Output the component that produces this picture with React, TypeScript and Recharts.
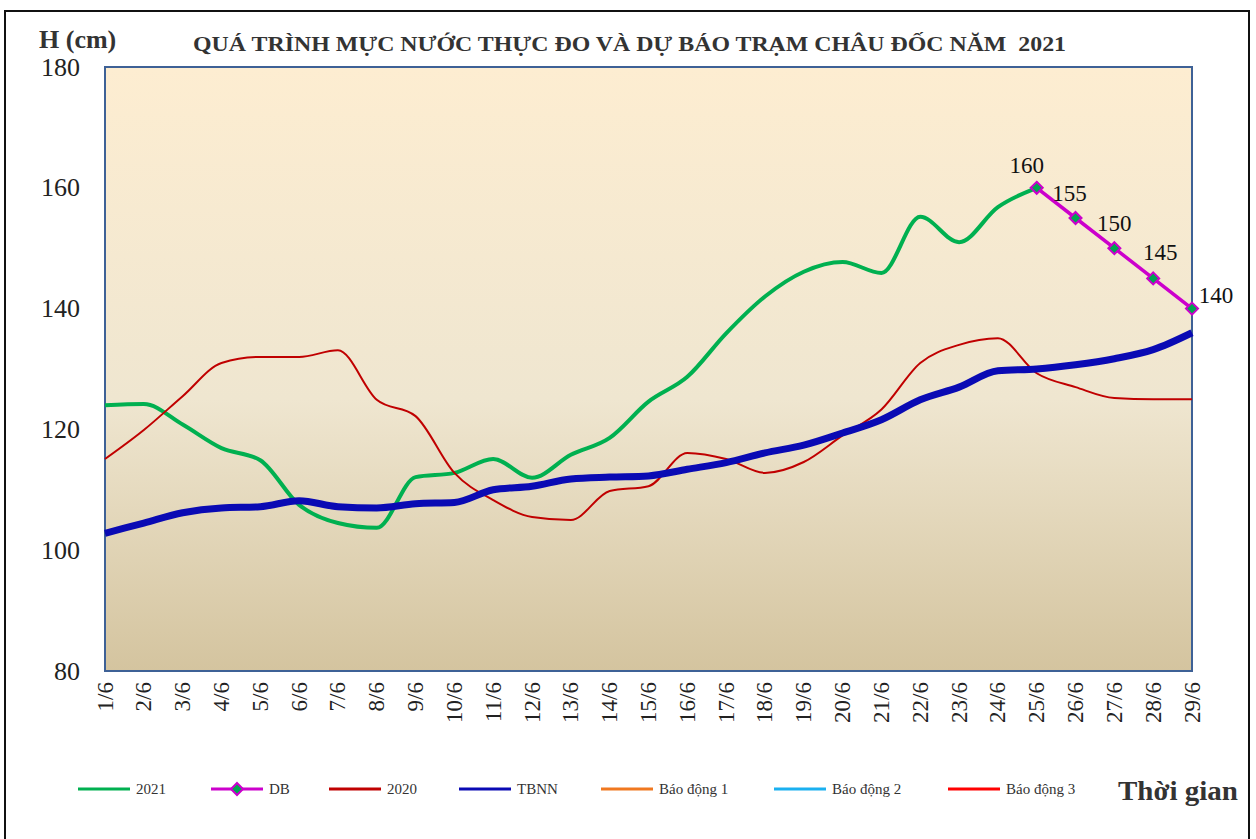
import React from 'react';
import { LineChart, Line, XAxis, YAxis, ReferenceArea, LabelList } from 'recharts';

// ngày quan trắc
const days = [
  '1/6', '2/6', '3/6', '4/6', '5/6', '6/6', '7/6', '8/6', '9/6', '10/6',
  '11/6', '12/6', '13/6', '14/6', '15/6', '16/6', '17/6', '18/6', '19/6', '20/6',
  '21/6', '22/6', '23/6', '24/6', '25/6', '26/6', '27/6', '28/6', '29/6',
];

// mực nước thực đo 2021 (đến 25/6)
const h2021 = [
  124.0, 124.2, 120.8, 116.9, 114.9, 107.5, 104.5, 103.7, 112.1, 112.8,
  115.1, 112.0, 115.8, 118.6, 124.6, 128.7, 135.9, 142.0, 146.1, 147.7,
  145.9, 155.2, 151.0, 156.8, 160.0,
];

// dự báo từ 25/6
const dbStart = 24;
const hDB = [160, 155, 150, 145, 140];

const h2020 = [
  115.1, 119.9, 125.5, 131.0, 132.0, 132.0, 133.1, 124.9, 122.2, 112.8,
  108.3, 105.5, 105.0, 109.8, 110.6, 116.1, 115.1, 112.8, 114.6, 119.0,
  123.3, 131.0, 134.0, 135.1, 129.3, 127.0, 125.2, 125.0, 125.0,
];

const hTBNN = [
  102.8, 104.5, 106.2, 107.0, 107.2, 108.2, 107.2, 107.0, 107.7, 107.9,
  110.0, 110.6, 111.8, 112.1, 112.3, 113.4, 114.5, 116.1, 117.4, 119.4,
  121.6, 124.9, 127.0, 129.7, 130.0, 130.7, 131.7, 133.2, 136.0,
];

const yTicks = [80, 100, 120, 140, 160, 180];

const legendItems = [
  { name: '2021', color: '#00B050', left: 78, marker: false },
  { name: 'DB', color: '#CC00CC', left: 211, marker: true },
  { name: '2020', color: '#C00000', left: 329, marker: false },
  { name: 'TBNN', color: '#0A0AB4', left: 459, marker: false },
  { name: 'Báo động 1', color: '#F07820', left: 601, marker: false },
  { name: 'Báo động 2', color: '#1AB0F0', left: 774, marker: false },
  { name: 'Báo động 3', color: '#FF0000', left: 948, marker: false },
];

const rows = days.map((day, i) => ({
  day,
  y2021: i < h2021.length ? h2021[i] : null,
  db: i >= dbStart ? hDB[i - dbStart] : null,
  y2020: h2020[i],
  tbnn: hTBNN[i],
}));

const serif = '"Liberation Serif", "Times New Roman", serif';

const XTick = (props: any) => {
  const { x, y, payload } = props;
  const ty = y + 3;
  return (
    <text
      x={x}
      y={ty}
      transform={`rotate(-90 ${x} ${ty})`}
      textAnchor="end"
      dominantBaseline="central"
      style={{ fontFamily: serif, fontSize: 23 }}
      fill="#222"
    >
      {payload.value}
    </text>
  );
};

const YTick = (props: any) => {
  const { x, y, payload } = props;
  return (
    <text
      x={x - 17}
      y={y}
      textAnchor="end"
      dominantBaseline="central"
      style={{ fontFamily: serif, fontSize: 26 }}
      fill="#222"
    >
      {payload.value}
    </text>
  );
};

const Diamond = (props: any) => {
  const { cx, cy, value } = props;
  if (value == null) return null;
  const r = 6;
  return (
    <path
      d={`M${cx},${cy - r}L${cx + r},${cy}L${cx},${cy + r}L${cx - r},${cy}Z`}
      fill="#00A651"
      stroke="#CC00CC"
      strokeWidth={2}
    />
  );
};

// vị trí nhãn số liệu dự báo
const labelShift = [
  [-10, -22],
  [-6, -25],
  [0, -25],
  [7, -26],
  [24, -13],
];

const DBLabel = (props: any) => {
  const { x, y, value, index } = props;
  if (value == null) return null;
  const k = index - dbStart;
  const [dx, dy] = labelShift[k] || [0, -22];
  return (
    <text
      x={x + dx}
      y={y + dy}
      textAnchor="middle"
      dominantBaseline="central"
      style={{ fontFamily: serif, fontSize: 23 }}
      fill="#111"
    >
      {value}
    </text>
  );
};

export default function App() {
  return (
    <div
      style={{
        position: 'absolute',
        left: 0,
        top: 0,
        width: 1256,
        height: 839,
        background: '#fff',
        fontFamily: serif,
      }}
    >
      <div
        style={{
          position: 'absolute',
          left: 4,
          top: 10,
          width: 1242,
          height: 830,
          border: '2px solid #111',
        }}
      />
      <LineChart
        width={1256}
        height={839}
        data={rows}
        margin={{ top: 67, right: 64, bottom: 118, left: 45 }}
        style={{ position: 'absolute', left: 0, top: 0, fontFamily: serif }}
      >
        <defs>
          <linearGradient id="plotBg" x1="0" y1="0" x2="0" y2="1">
            <stop offset="0%" stopColor="#FDEDD1" />
            <stop offset="55%" stopColor="#EFE6D0" />
            <stop offset="100%" stopColor="#D4C49F" />
          </linearGradient>
        </defs>
        <ReferenceArea
          x1="1/6"
          x2="29/6"
          y1={80}
          y2={180}
          fill="url(#plotBg)"
          fillOpacity={1}
          stroke="#3E6196"
          strokeWidth={2}
        />
        <XAxis
          dataKey="day"
          height={50}
          interval={0}
          axisLine={false}
          tickLine={false}
          tick={(p: any) => <XTick {...p} />}
        />
        <YAxis
          width={60}
          domain={[80, 180]}
          ticks={yTicks}
          axisLine={false}
          tickLine={false}
          tick={(p: any) => <YTick {...p} />}
        />
        <Line
          type="monotone"
          dataKey="y2021"
          stroke="#00B050"
          strokeWidth={4}
          dot={false}
          isAnimationActive={false}
        />
        <Line
          type="linear"
          dataKey="db"
          stroke="#CC00CC"
          strokeWidth={3.5}
          dot={<Diamond />}
          isAnimationActive={false}
        >
          <LabelList dataKey="db" content={(p: any) => <DBLabel {...p} />} />
        </Line>
        <Line
          type="monotone"
          dataKey="y2020"
          stroke="#C00000"
          strokeWidth={2}
          dot={false}
          isAnimationActive={false}
        />
        <Line
          type="monotone"
          dataKey="tbnn"
          stroke="#0A0AB4"
          strokeWidth={7}
          dot={false}
          isAnimationActive={false}
        />
      </LineChart>

      <svg
        width={1256}
        height={839}
        style={{ position: 'absolute', left: 0, top: 0, pointerEvents: 'none' }}
      >
        <text x={39} y={48} style={{ fontFamily: serif, fontSize: 26, fontWeight: 'bold' }} fill="#333">
          H (cm)
        </text>
        <text
          x={193}
          y={51}
          style={{ fontFamily: serif, fontSize: 22, fontWeight: 'bold' }}
          fill="#333"
          textLength={873}
          lengthAdjust="spacingAndGlyphs"
        >
          QUÁ TRÌNH MỰC NƯỚC THỰC ĐO VÀ DỰ BÁO TRẠM CHÂU ĐỐC NĂM{'\u00a0 '}2021
        </text>
        <text
          x={1118}
          y={800}
          style={{ fontFamily: serif, fontSize: 28, fontWeight: 'bold' }}
          fill="#333"
          textLength={120}
          lengthAdjust="spacingAndGlyphs"
        >
          Thời gian
        </text>
      </svg>

      {legendItems.map((it) => (
        <div
          key={it.name}
          style={{
            position: 'absolute',
            left: it.left,
            top: 779,
            height: 20,
            display: 'flex',
            alignItems: 'center',
            fontSize: 15,
            color: '#333',
          }}
        >
          <svg width={54} height={20}>
            <line x1={0} y1={10} x2={52} y2={10} stroke={it.color} strokeWidth={3} />
            {it.marker && (
              <path d="M26,4L32,10L26,16L20,10Z" fill="#00A651" stroke="#CC00CC" strokeWidth={2} />
            )}
          </svg>
          <span style={{ marginLeft: 4 }}>{it.name}</span>
        </div>
      ))}
    </div>
  );
}
